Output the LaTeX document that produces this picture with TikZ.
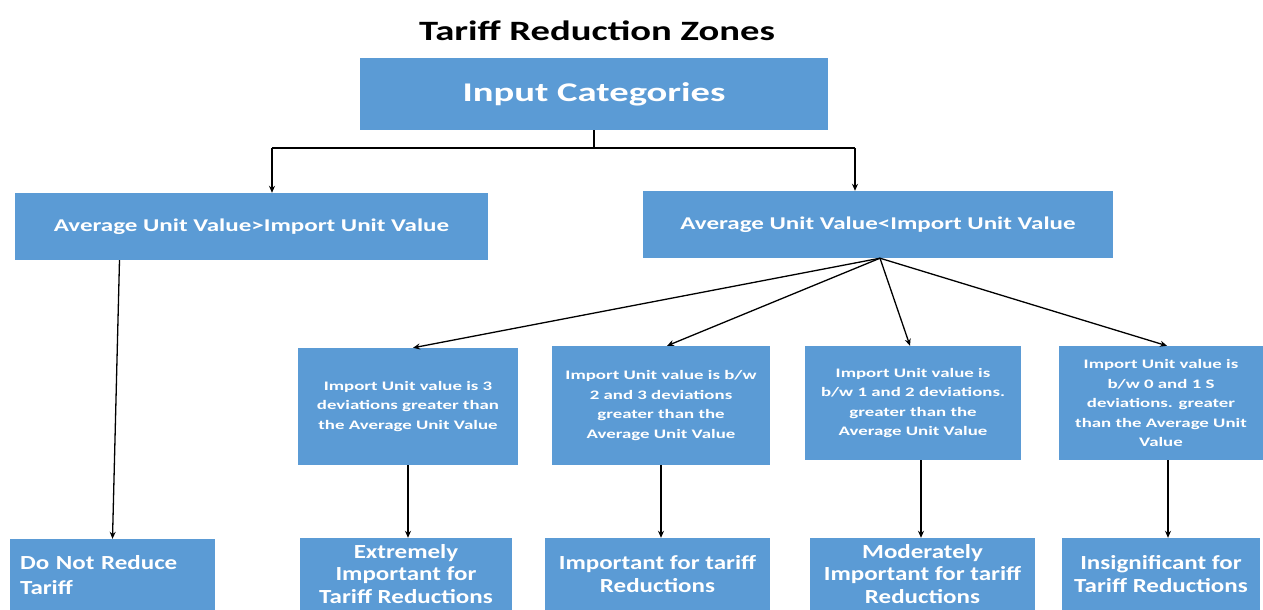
\documentclass[tikz,border=0pt]{standalone}
\usepackage{fontspec}
\setmainfont{Carlito}
\newfontfamily\fTitle[FakeStretch=1.38]{Carlito}
\newfontfamily\fInput[FakeStretch=1.43]{Carlito}
\newfontfamily\fMid[FakeStretch=1.39]{Carlito}
\newfontfamily\fSmall[FakeStretch=1.45]{Carlito}
\newfontfamily\fBot[FakeStretch=1.25]{Carlito}
\usetikzlibrary{arrows.meta}
\definecolor{boxblue}{HTML}{5B9BD5}
\tikzset{
  box/.style={fill=boxblue, text=white, align=center, inner sep=0pt},
  bigtxt/.style={font=\fInput\bfseries\fontsize{27}{32}\selectfont},
  midtxt/.style={font=\fMid\bfseries\fontsize{18}{22}\selectfont},
  smalltxt/.style={font=\fSmall\bfseries\fontsize{13}{19.5}\selectfont},
  bottxt/.style={font=\fBot\bfseries\fontsize{20}{22.5}\selectfont},
  conn/.style={line width=1.3pt},
  arr/.style={line width=1.3pt, -{Stealth[length=7pt,width=6pt]}}
}
\begin{document}
\begin{tikzpicture}[x=1pt,y=-1pt]
\useasboundingbox (0,0) rectangle (1263,610);
\clip (0,0) rectangle (1263,610);
\fill[white] (0,0) rectangle (1263,610);

\node[font=\fTitle\bfseries\fontsize{28}{32}\selectfont] (title) at (597,31) {Tariff Reduction Zones};

\node[box, bigtxt, minimum width=468pt, minimum height=72pt] (input) at (594,94) {Input Categories};

\node[box, midtxt, minimum width=473pt, minimum height=67pt] (left) at (251.5,226.5) {Average Unit Value>Import Unit Value};
\node[box, midtxt, minimum width=470pt, minimum height=67pt] (right) at (878,224.5) {Average Unit Value<Import Unit Value};

\node[box, smalltxt, minimum width=220pt, minimum height=117pt] (A) at (408,406.5) {Import Unit value is 3\\deviations greater than\\the Average Unit Value};
\node[box, smalltxt, minimum width=218pt, minimum height=119pt] (B) at (661,405.5) {Import Unit value is b/w\\2 and 3 deviations\\greater than the\\Average Unit Value};
\node[box, smalltxt, minimum width=216pt, minimum height=114pt] (C) at (913,403) {Import Unit value is\\b/w 1 and 2 deviations.\\greater than the\\Average Unit Value};
\node[box, smalltxt, minimum width=204pt, minimum height=114pt] (D) at (1161,403) {Import Unit value is\\b/w 0 and 1 S\\deviations. greater\\than the Average Unit\\Value};

\node[box, bottxt, minimum width=205pt, minimum height=72pt, text width=185pt, align=left, font=\fBot\bfseries\fontsize{20}{25}\selectfont] (dnr) at (112.5,575) {Do Not Reduce\\Tariff};
\node[box, bottxt, minimum width=212pt, minimum height=72pt] (ext) at (406,574) {Extremely\\Important for\\Tariff Reductions};
\node[box, bottxt, minimum width=225pt, minimum height=72pt] (imp) at (657.5,574) {Important for tariff\\Reductions};
\node[box, bottxt, minimum width=225pt, minimum height=72pt] (mod) at (922.5,574) {Moderately\\Important for tariff\\Reductions};
\node[box, bottxt, minimum width=198pt, minimum height=72pt] (ins) at (1161,574) {Insignificant for\\Tariff Reductions};

% top connector
\coordinate (jl) at (272,148);
\coordinate (jr) at (855,148);
\draw[conn] (input.south) -- (input.south |- jl);
\draw[conn] (jl) -- (jr);
\draw[arr] (jl) -- (jl |- left.north);
\draw[arr] (jr) -- (jr |- right.north);

% left branch
\draw[arr] ([xshift=7pt]dnr.north |- left.south) -- (dnr.north);

% fan
\draw[arr] ([xshift=2pt]right.south) -- ([xshift=5pt]A.north);
\draw[arr] ([xshift=2pt]right.south) -- ([xshift=6pt]B.north);
\draw[arr] ([xshift=2pt]right.south) -- ([xshift=-3pt]C.north);
\draw[arr] ([xshift=2pt]right.south) -- ([xshift=6pt]D.north);

% down arrows
\draw[arr] (A.south) -- (A.south |- ext.north);
\draw[arr] (B.south) -- (B.south |- imp.north);
\draw[arr] ([xshift=8pt]C.south) -- ([xshift=8pt]C.south |- mod.north);
\draw[arr] ([xshift=7pt]D.south) -- ([xshift=7pt]D.south |- ins.north);
\end{tikzpicture}
\end{document}
